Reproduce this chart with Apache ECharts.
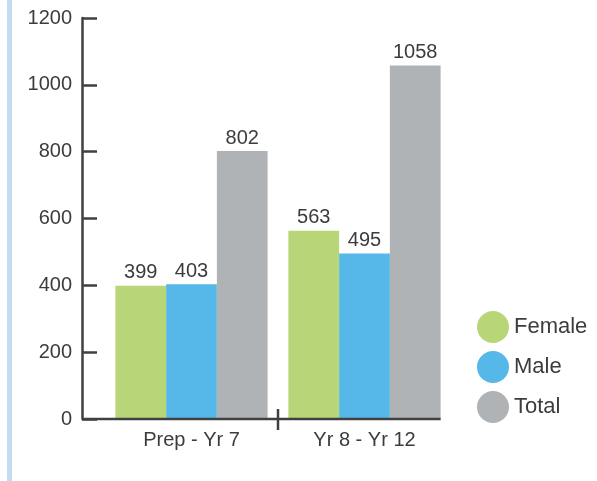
<!DOCTYPE html>
<html>
<head>
<meta charset="utf-8">
<script src="https://cdn.jsdelivr.net/npm/echarts@6/dist/echarts.min.js"></script>
<style>
html,body{margin:0;padding:0;background:#fff;}
#chart{width:597px;height:481px;}
</style>
</head>
<body>
<div id="chart"></div>
<script>
const categories = ['Prep - Yr 7', 'Yr 8 - Yr 12'];
const female = [399, 563];
const male = [403, 495];
const total = [802, 1058];
const yTicks = [0, 200, 400, 600, 800, 1000, 1200];

const FONT = '"Liberation Sans", Arial, Helvetica, sans-serif';
const TXT = '#3c3c3c';
const AX = '#404040';

const chart = echarts.init(document.getElementById('chart'));
const labelCfg = {show: true, position: 'top', distance: 3, color: TXT, fontSize: 20, fontFamily: FONT};
function bar(name, data, color) {
  return {name, type: 'bar', data, barGap: '0%', barCategoryGap: '12%',
    itemStyle: {color}, label: labelCfg, emphasis: {disabled: true}};
}
chart.setOption({
  animation: false,
  grid: {left: 105, right: 146, top: 18, bottom: 62},
  legend: {
    orient: 'vertical', left: 472, top: 306, itemWidth: 32, itemHeight: 32, itemGap: 8,
    icon: 'circle', selectedMode: false,
    textStyle: {color: TXT, fontSize: 22, fontFamily: FONT, padding: [0, 0, 0, 0]},
    data: ['Female', 'Male', 'Total']
  },
  xAxis: {
    type: 'category', data: categories,
    axisLine: {show: false}, axisTick: {show: false},
    axisLabel: {color: TXT, fontSize: 20, fontFamily: FONT, margin: 11}
  },
  yAxis: {
    type: 'value', min: yTicks[0], max: yTicks[yTicks.length - 1], interval: 200,
    offset: 23,
    axisLine: {show: true, lineStyle: {color: AX, width: 2.5}},
    axisTick: {show: true, inside: true, length: 15, lineStyle: {color: AX, width: 2.5}},
    splitLine: {show: false},
    axisLabel: {color: TXT, fontSize: 20, fontFamily: FONT, margin: 10, padding: [7, 0, 0, 0], formatter: v => String(v)}
  },
  series: [
    bar('Female', female, '#b8d677'),
    bar('Male', male, '#56b8e8'),
    bar('Total', total, '#b0b3b6')
  ]
});

// decorative axis line, category divider tick and left accent line
const p0 = chart.convertToPixel({xAxisIndex: 0, yAxisIndex: 0}, [0, 0]);
const p1 = chart.convertToPixel({xAxisIndex: 0, yAxisIndex: 0}, [1, 0]);
const band = p1[0] - p0[0];
const y0 = p0[1];
const xStart = 105 - 23;
const xEnd = p1[0] + band * 0.44;
const mid = (p0[0] + p1[0]) / 2;
chart.setOption({
  graphic: [
    {type: 'rect', shape: {x: 7, y: 0, width: 5, height: 481}, style: {fill: '#c0ddf3'}, silent: true},
    {type: 'line', shape: {x1: xStart, y1: y0, x2: xEnd, y2: y0}, style: {stroke: AX, lineWidth: 2.5}, z: 10, silent: true},
    {type: 'line', shape: {x1: mid, y1: y0 - 10, x2: mid, y2: y0 + 11}, style: {stroke: AX, lineWidth: 2.5}, z: 10, silent: true}
  ]
});
</script>
</body>
</html>
